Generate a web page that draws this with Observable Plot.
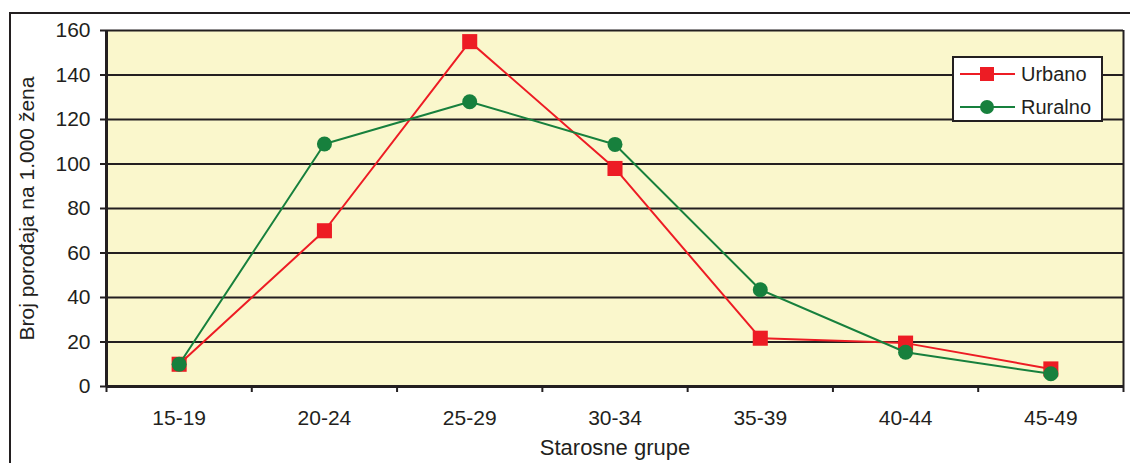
<!DOCTYPE html>
<html>
<head>
<meta charset="utf-8">
<script src="https://cdn.jsdelivr.net/npm/d3@7"></script>
<script src="https://cdn.jsdelivr.net/npm/@observablehq/plot@0.6"></script>
<style>
  html, body { margin: 0; padding: 0; background: #fff; overflow: hidden; }
  #wrap { position: relative; width: 1130px; height: 463px; overflow: hidden;
          font-family: "Liberation Sans", Arial, Helvetica, sans-serif; color: #231F20; }
  #outer { position: absolute; left: 9px; top: 12px; width: 1300px; height: 700px;
           border: 2px solid #231F20; box-sizing: border-box; }
  #chart { position: absolute; left: 0; top: 0; }
  #legend { position: absolute; left: 952px; top: 56px; width: 151px; height: 66px;
            box-sizing: border-box; border: 2px solid #231F20; background: #fff; }
  .item { position: absolute; left: 6px; height: 26px; display: flex; align-items: center;
          font-size: 20px; }
  .item svg { display: block; margin-right: 5px; }
</style>
</head>
<body>
<div id="wrap">
  <div id="outer"></div>
  <div id="chart"></div>
  <div id="legend"></div>
</div>
<script>
// Age groups and fertility rates (births per 1,000 women)
const categories = ["15-19", "20-24", "25-29", "30-34", "35-39", "40-44", "45-49"];
const urbano  = [10, 70, 155, 98, 21.7, 19.5, 7.9];
const ruralno = [10, 109, 128, 108.8, 43.5, 15.4, 5.7];
const yTicks = [0, 20, 40, 60, 80, 100, 120, 140, 160];
const xTitle = "Starosne grupe";
const yTitle = "Broj porođaja na 1.000 žena";

const seriesNames = ["Urbano", "Ruralno"];
const colors = {Urbano: "#ED1C24", Ruralno: "#17803D"};
const ink = "#231F20";

const rows = [
  ...categories.map((c, i) => ({i, age: c, value: urbano[i], series: "Urbano"})),
  ...categories.map((c, i) => ({i, age: c, value: ruralno[i], series: "Ruralno"}))
];
const urb = rows.filter(d => d.series === "Urbano");
const rur = rows.filter(d => d.series === "Ruralno");

const centers = d3.range(categories.length);
const bounds = d3.range(-0.5, categories.length, 1);

const chart = Plot.plot({
  width: 1130,
  height: 463,
  marginLeft: 106,
  marginRight: 7,
  marginTop: 30,
  marginBottom: 77,
  style: {fontFamily: '"Liberation Sans", Arial, sans-serif', fontSize: "21px", color: ink, background: "transparent"},
  x: {domain: [-0.5, categories.length - 0.5]},
  y: {domain: [0, 160]},
  marks: [
    Plot.frame({fill: "#FAF7CC", stroke: null}),
    Plot.ruleY(yTicks.filter(t => t > 0), {stroke: ink, strokeWidth: 2}),
    Plot.ruleX([categories.length - 0.5], {stroke: ink, strokeWidth: 2}),
    Plot.ruleX([-0.5], {stroke: ink, strokeWidth: 3}),
    Plot.ruleY([0], {stroke: ink, strokeWidth: 3}),
    // y axis ticks and labels
    Plot.axisY(yTicks, {tickSize: 6, tickPadding: 10, stroke: ink, strokeWidth: 2, fill: ink,
      fontSize: 21, label: null}),
    // x axis: ticks between groups, labels at group centers
    Plot.axisX(bounds, {tickSize: 6, tickFormat: () => "", stroke: ink, strokeWidth: 2, label: null}),
    Plot.axisX(centers, {tickSize: 0, tickPadding: 24, tickFormat: i => categories[i], fill: ink,
      fontSize: 21, label: null}),
    // axis titles
    Plot.text([xTitle], {frameAnchor: "bottom", dy: 68, fill: ink, fontSize: 22}),
    Plot.text([yTitle], {frameAnchor: "left", textAnchor: "middle", dx: -79, rotate: -90,
      fill: ink, fontSize: 21}),
    // series
    Plot.line(urb, {x: "i", y: "value", stroke: colors.Urbano, strokeWidth: 2}),
    Plot.dot(urb, {x: "i", y: "value", symbol: "square", r: 8.5, fill: colors.Urbano}),
    Plot.line(rur, {x: "i", y: "value", stroke: colors.Ruralno, strokeWidth: 2}),
    Plot.dot(rur, {x: "i", y: "value", symbol: "circle", r: 7.5, fill: colors.Ruralno})
  ]
});
document.getElementById("chart").appendChild(chart);

// Legend
const legend = document.getElementById("legend");
seriesNames.forEach((name, k) => {
  const item = document.createElement("div");
  item.className = "item";
  item.style.top = (k === 0 ? 3 : 36) + "px";
  const sw = d3.create("svg").attr("width", 56).attr("height", 18);
  sw.append("line").attr("x1", 0).attr("x2", 55).attr("y1", 9).attr("y2", 9)
    .attr("stroke", colors[name]).attr("stroke-width", 2);
  if (name === "Urbano") {
    sw.append("rect").attr("x", 20).attr("y", 2).attr("width", 14).attr("height", 14).attr("fill", colors[name]);
  } else {
    sw.append("circle").attr("cx", 27).attr("cy", 9).attr("r", 7).attr("fill", colors[name]);
  }
  item.appendChild(sw.node());
  const t = document.createElement("span");
  t.textContent = name;
  item.appendChild(t);
  legend.appendChild(item);
});
</script>
</body>
</html>
